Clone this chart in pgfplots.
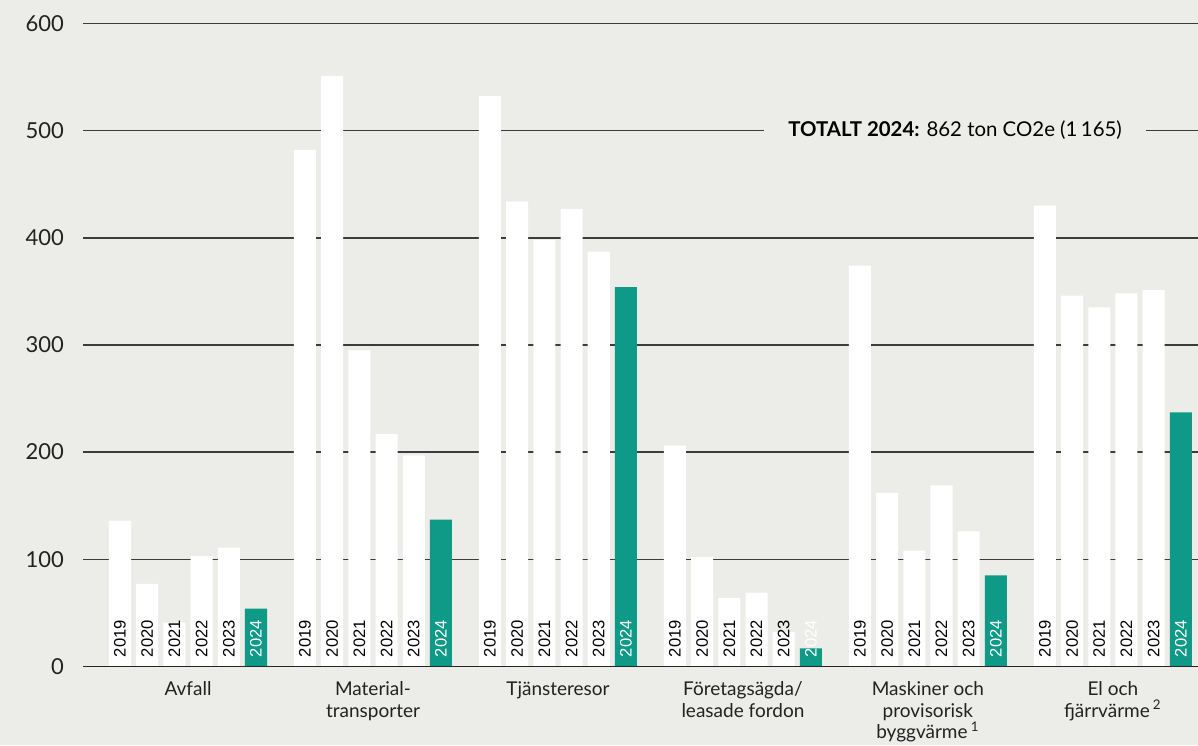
\documentclass[border=0pt]{standalone}
\usepackage{pgfplots}
\usepackage{pgfplotstable}
\pgfplotsset{compat=1.18}
\usepackage{fontspec}
\setmainfont{Lato}
\newfontfamily\yearfont{Liberation Sans}
\definecolor{bg}{HTML}{ECECE8}
\definecolor{teal24}{HTML}{0E9A86}
\definecolor{gridc}{HTML}{3C3C3C}
\definecolor{txt}{HTML}{222222}

% 2019-2023, white bars
\pgfplotstableread{
x    y   year
0    136 2019
1    77  2020
2    41  2021
3    103 2022
4    111 2023
6.8  482 2019
7.8  551 2020
8.8  295 2021
9.8  217 2022
10.8 197 2023
13.6 532 2019
14.6 434 2020
15.6 398 2021
16.6 427 2022
17.6 387 2023
20.4 206 2019
21.4 102 2020
22.4 64  2021
23.4 69  2022
24.4 32  2023
27.2 374 2019
28.2 162 2020
29.2 108 2021
30.2 169 2022
31.2 126 2023
34   430 2019
35   346 2020
36   335 2021
37   348 2022
38   351 2023
}\older

% 2024, green bars
\pgfplotstableread{
x    y   year
5    54  2024
11.8 137 2024
18.6 354 2024
25.4 17  2024
32.2 85  2024
39   237 2024
}\latest

\begin{document}
\begin{tikzpicture}
\fill[bg] (0pt,0pt) rectangle (599pt,372.5pt);
\path[use as bounding box] (0pt,0pt) rectangle (599pt,372.5pt);
\begin{axis}[
    at={(41.5pt,39.25pt)}, anchor=south west,
    scale only axis,
    width=557.5pt, height=321.6pt,
    xmin=-1.36, xmax=39.63,
    ymin=0, ymax=600,
    ytick={0,100,...,600},
    ymajorgrids,
    major grid style={gridc, line width=0.8pt},
    axis line style={draw=none},
    tick style={draw=none},
    xtick={2.5,9.3,16.1,22.9,29.7,36.5},
    xticklabels={Avfall, {Material-\\transporter}, Tjänsteresor,
        {Företagsägda/\\leasade fordon},
        {Maskiner och\\provisorisk\\byggvärme\,\textsuperscript{1}},
        {El och\\fjärrvärme\,\textsuperscript{2}}},
    xticklabel style={align=center, font=\fontsize{9.5}{10.8}\selectfont, text=txt, yshift=-4pt},
    yticklabel style={font=\fontsize{11}{13}\selectfont, text=txt, xshift=-6pt},
    /pgf/number format/assume math mode=true,
    clip=false,
]
\addplot[ybar, bar width=0.81, bar shift=0pt, fill=white, draw=none] table[x=x, y=y] {\older};
\addplot[ybar, bar width=0.81, bar shift=0pt, fill=teal24, draw=none] table[x=x, y=y] {\latest};

\addplot[draw=none, mark=none, point meta=explicit symbolic, nodes near coords,
    every node near coord/.append style={rotate=90, anchor=west, text=black,
        font=\yearfont\fontsize{8.3}{9}\selectfont, inner xsep=4.5pt, inner ysep=0pt}]
    table[x=x, y expr=0, meta=year] {\older};
\addplot[draw=none, mark=none, point meta=explicit symbolic, nodes near coords,
    every node near coord/.append style={rotate=90, anchor=west, text=white,
        font=\yearfont\fontsize{8.3}{9}\selectfont, inner xsep=4.5pt, inner ysep=0pt}]
    table[x=x, y expr=0, meta=year] {\latest};

\draw[black!85, line width=0.9pt] (rel axis cs:0,0) -- (rel axis cs:1,0);
\node[fill=bg, inner xsep=12pt, inner ysep=2pt, text=black, font=\fontsize{10.2}{12}\selectfont]
    at (axis cs:30.7,500) {\textbf{TOTALT 2024:} 862 ton CO2e (1\,165)};
\end{axis}
\end{tikzpicture}
\end{document}
